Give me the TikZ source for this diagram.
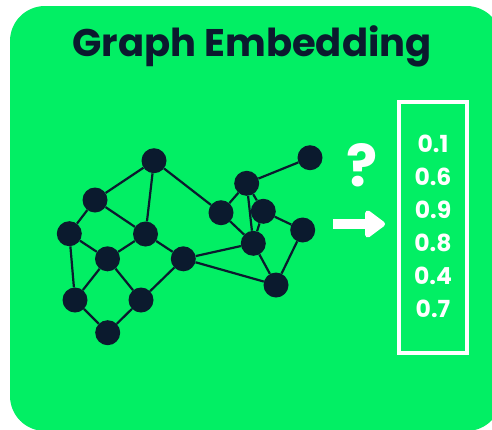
\documentclass[tikz,border=0pt]{standalone}
\usepackage{fontspec}
\setmainfont{Poppins}
\usetikzlibrary{arrows.meta,backgrounds}
\definecolor{bggreen}{RGB}{2,239,100}
\definecolor{navy}{RGB}{11,26,46}
\begin{document}
\begin{tikzpicture}[x=1pt,y=-1pt,
  vtx/.style={circle,fill=navy,minimum size=25pt,inner sep=0pt},
  edge/.style={draw=navy,line width=2.2pt},
  val/.style={text=white,font=\bfseries\fontsize{23.5}{26}\selectfont,inner sep=0pt}]
\useasboundingbox (0,0) rectangle (492,429);
% vertices
\node[vtx] (n1) at (154,160.7) {};
\node[vtx] (n2) at (310,157.7) {};
\node[vtx] (n3) at (95,200) {};
\node[vtx] (n4) at (246.7,183.3) {};
\node[vtx] (n5) at (221,212.7) {};
\node[vtx] (n6) at (263.3,211.3) {};
\node[vtx] (n7) at (69.3,233.7) {};
\node[vtx] (n8) at (145.5,234) {};
\node[vtx] (n9) at (302.7,230) {};
\node[vtx] (n10) at (253.3,243.3) {};
\node[vtx] (n11) at (107.5,258.8) {};
\node[vtx] (n12) at (183.3,258.8) {};
\node[vtx] (n13) at (276,285) {};
\node[vtx] (n14) at (75,300) {};
\node[vtx] (n15) at (141,300) {};
\node[vtx] (n16) at (107.7,332.7) {};
\begin{pgfonlayer}{background}
\fill[bggreen,rounded corners=35pt] (10,6) rectangle (501.5,431);
\foreach \a/\b in {n1/n3,n1/n8,n1/n5,n3/n7,n3/n8,n7/n11,n7/n14,n8/n11,n8/n12,n11/n14,n11/n15,n14/n16,n15/n16,n15/n12,n12/n10,n12/n13,n5/n4,n5/n10,n4/n2,n4/n10,n4/n6,n6/n10,n6/n9,n9/n13,n10/n13}
  \draw[edge] (\a) -- (\b);
\end{pgfonlayer}
\node[text=navy,font=\bfseries\fontsize{38.5}{42}\selectfont] (title) at (252,46) {Graph Embedding};
% question mark and arrow
\node[text=white,font=\bfseries\fontsize{58}{60}\selectfont,inner sep=0pt] (q) at (362.5,165) {?};
\coordinate (arrS) at (333,224);
\coordinate (arrE) at (385,224);
\draw[white,line width=10pt,-{Triangle[length=22pt,width=31pt,round]}] (arrS) -- (arrE);
% vector
\node[draw=white,line width=4pt,minimum width=68pt,minimum height=251pt,inner sep=0pt] (vec) at (433,227.5) {};
\node[val] (v1) at (433,144) {0.1};
\node[val] (v2) at (433,177) {0.6};
\node[val] (v3) at (433,210) {0.9};
\node[val] (v4) at (433,243) {0.8};
\node[val] (v5) at (433,276) {0.4};
\node[val] (v6) at (433,308.5) {0.7};
\end{tikzpicture}
\end{document}
